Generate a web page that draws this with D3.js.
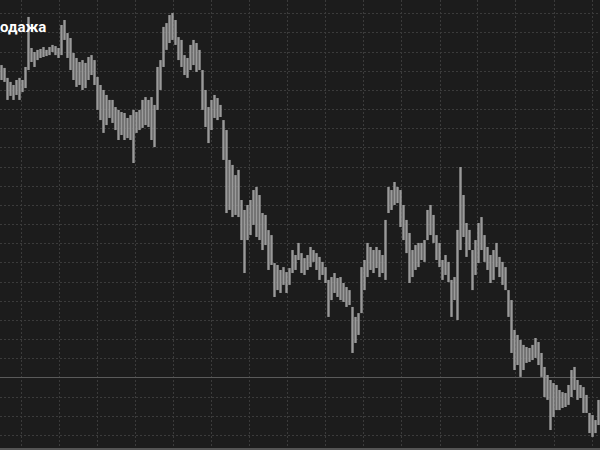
<!DOCTYPE html>
<html>
<head>
<meta charset="utf-8">
<script src="https://cdn.jsdelivr.net/npm/d3@7"></script>
<style>
html,body{margin:0;padding:0;background:#1c1c1c;overflow:hidden;}
svg{display:block;}
</style>
</head>
<body>
<svg id="chart" width="600" height="450"></svg>
<script>
// ---- data (price units; grid step = 10) ----
const title = "Продажа";
const highs = [
193.0,191.5,186.3,184.2,182.6,185.2,186.3,185.2,192.0,218.1,
201.9,199.8,200.9,201.4,202.4,200.9,202.4,203.5,202.9,201.9,
213.9,216.5,209.7,207.1,199.3,196.7,194.6,195.6,194.1,197.2,
198.2,195.6,186.8,182.6,180.0,177.4,174.8,174.8,171.1,169.6,
168.5,168.0,165.4,166.9,169.6,168.5,169.6,174.8,176.3,174.8,
176.3,172.2,192.0,195.6,212.9,214.9,219.1,220.2,216.5,207.6,
206.1,198.2,196.7,203.5,206.1,204.5,200.9,190.4,180.0,171.1,
174.8,177.4,175.8,172.2,164.3,159.1,143.5,140.9,135.6,138.3,
122.6,117.4,120.0,122.6,127.8,129.4,125.2,115.8,114.8,106.9,
104.3,89.7,88.7,86.1,87.6,85.0,87.1,96.5,93.9,100.2,
94.9,92.3,93.9,98.1,96.5,94.9,92.9,90.3,87.6,80.9,
82.4,84.5,81.9,82.4,79.3,77.2,75.6,66.8,61.6,63.6,
87.6,91.3,100.2,98.1,96.5,98.1,96.5,93.9,112.2,129.4,
127.8,132.0,129.4,127.8,120.0,112.2,105.4,96.5,99.1,100.2,
100.2,101.7,117.4,120.0,114.8,104.3,100.2,91.3,93.9,90.3,
80.9,82.4,107.0,139.8,125.2,110.6,107.0,96.5,101.7,110.6,
113.7,104.3,98.1,93.9,96.5,100.2,92.9,90.3,87.6,75.6,
70.4,54.8,52.2,49.6,47.0,45.9,45.4,47.0,50.6,48.5,
42.8,35.5,31.3,28.7,27.1,26.1,23.5,22.4,21.9,26.1,
33.9,35.5,28.7,26.1,25.0,20.9,11.5,10.4,7.8,18.3
];
const lows = [
185.2,184.2,174.8,176.9,174.8,177.4,174.8,178.9,181.0,190.4,
194.6,192.0,195.6,196.7,197.2,197.7,198.2,199.8,198.2,196.7,
198.2,206.1,196.7,190.4,185.2,181.6,182.6,180.0,181.0,185.2,
187.8,182.6,169.6,164.3,157.6,161.7,165.4,162.8,159.1,153.9,
156.5,153.9,154.9,153.9,141.9,157.6,159.1,160.2,161.7,160.7,
153.9,150.2,169.6,180.0,192.0,200.9,204.5,206.1,203.5,195.6,
192.0,187.8,186.3,190.4,193.0,189.4,190.4,169.6,160.7,152.3,
159.1,165.4,164.3,165.9,143.5,115.8,117.4,113.7,114.8,113.7,
101.7,84.5,101.7,104.3,109.6,103.3,101.7,96.5,99.1,86.1,
88.7,72.0,75.6,74.1,78.3,74.1,78.3,84.5,86.1,91.3,
84.5,83.5,86.1,87.6,90.3,86.1,80.9,83.5,79.3,61.6,
70.4,74.1,72.0,70.4,69.4,66.8,67.8,42.8,48.0,52.2,
63.6,75.6,82.4,86.1,84.5,87.1,82.4,84.5,80.9,115.8,
117.4,120.0,121.0,108.5,101.7,94.9,79.3,82.4,86.1,87.6,
91.3,90.3,101.7,104.3,100.2,91.3,87.6,80.9,83.5,79.8,
61.6,70.4,60.0,96.5,103.3,92.9,96.5,75.6,83.5,89.7,
96.5,90.3,86.1,79.3,80.9,87.6,82.4,78.3,75.6,61.6,
42.8,33.9,36.5,30.3,33.9,37.6,38.1,39.1,40.2,36.5,
30.3,19.8,18.3,2.6,9.4,13.0,13.0,14.1,14.6,15.7,
19.8,23.5,18.3,19.3,11.5,11.5,1.0,-1.0,1.0,5.2
];
const priceGrid = d3.range(0, 221, 10);       // horizontal grid levels
const timeGrid = [6.9,19.6,32.3,45.0,57.6,70.3,83.0,95.7,108.4,121.1,133.8,146.5,159.1,171.8,184.5,197.2]; // bar-index ticks
const levelLine = 30;                           // solid horizontal level

// ---- scales ----
const W = 600, H = 450;
const svg = d3.select("#chart");
const x = d3.scaleLinear().domain([0, highs.length]).range([0, 600]);
const y = d3.scaleLinear().domain([0, 220]).range([435, 13.3]);

svg.append("rect").attr("width", W).attr("height", H).attr("fill", "#1c1c1c");

// grid
const grid = svg.append("g").attr("stroke", "#3b3b3b").attr("stroke-width", 1).attr("stroke-dasharray", "2,2");
grid.selectAll("line.h").data(priceGrid.filter(v => v !== levelLine)).join("line")
  .attr("class", "h").attr("x1", 0).attr("x2", W)
  .attr("y1", d => Math.round(y(d)) + 0.5).attr("y2", d => Math.round(y(d)) + 0.5);
grid.selectAll("line.v").data(timeGrid).join("line")
  .attr("class", "v").attr("y1", 0).attr("y2", H)
  .attr("x1", d => Math.round(x(d)) + 0.5).attr("x2", d => Math.round(x(d)) + 0.5);

// level line
svg.append("line").attr("x1", 0).attr("x2", W)
  .attr("y1", Math.round(y(levelLine)) + 0.5).attr("y2", Math.round(y(levelLine)) + 0.5)
  .attr("stroke", "#5a5a5a").attr("stroke-width", 1);
// bottom border
svg.append("line").attr("x1", 0).attr("x2", W).attr("y1", 449).attr("y2", 449)
  .attr("stroke", "#555").attr("stroke-width", 2);

// bars
const bw = x(1) - x(0);
svg.append("g").selectAll("rect").data(highs.map((h, i) => ({h, l: lows[i], i}))).join("rect")
  .attr("x", d => x(d.i) + bw * 0.5 - 1.2)
  .attr("width", 2.4)
  .attr("y", d => y(d.h))
  .attr("height", d => Math.max(1, y(d.l) - y(d.h)))
  .attr("fill", "#9a9a9a");

// title (left part clipped off the canvas, as in the reference)
const t = svg.append("text").attr("y", 32).attr("fill", "#ffffff")
  .attr("font-family", "Roboto, 'Noto Sans', sans-serif").attr("font-weight", "bold")
  .attr("font-size", 15).text(title);
const off = t.node().getSubStringLength(0, 2);
t.attr("x", -off);
</script>
</body>
</html>
